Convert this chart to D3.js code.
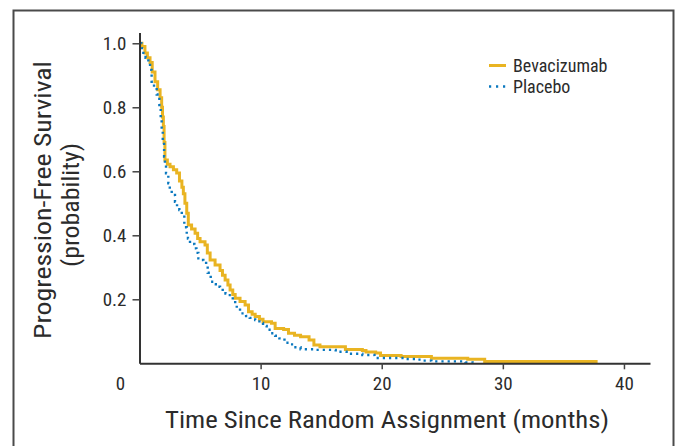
<!DOCTYPE html>
<html>
<head>
<meta charset="utf-8">
<script src="https://cdn.jsdelivr.net/npm/d3@7"></script>
<style>
  body { margin: 0; background: #fff; }
  text { font-family: "Liberation Sans Narrow", "Roboto Condensed", "Arial Narrow", "Liberation Sans", sans-serif; fill: #2b2b2b; font-weight: normal; }
</style>
</head>
<body>
<svg id="chart" width="679" height="446"></svg>
<script>
// Kaplan-Meier readings (months, probability)
const bevTime = [0, 0.2, 0.45, 0.65, 0.87, 1.05, 1.28, 1.5, 1.7, 1.83, 1.9, 1.97, 2.03, 2.1, 2.3, 2.52, 2.8, 3.07, 3.3, 3.5, 3.62, 3.75, 3.9, 4.03, 4.3, 4.59, 4.8, 5.0, 5.41, 5.6, 5.83, 6.24, 6.65, 6.85, 7.07, 7.3, 7.48, 7.7, 7.9, 8.3, 8.72, 9.0, 9.3, 9.55, 9.9, 10.2, 10.9, 11.2, 11.9, 12.3, 12.8, 13.3, 14.0, 14.4, 14.9, 17.0, 18.4, 18.7, 19.5, 19.9, 21.6, 24.1, 27.1, 28.5, 37.7];
const bevSurv = [1.0, 0.99, 0.97, 0.955, 0.94, 0.91, 0.88, 0.855, 0.83, 0.80, 0.77, 0.74, 0.69, 0.635, 0.622, 0.614, 0.605, 0.595, 0.57, 0.55, 0.53, 0.5, 0.469, 0.432, 0.42, 0.406, 0.39, 0.38, 0.37, 0.345, 0.323, 0.307, 0.29, 0.275, 0.26, 0.245, 0.229, 0.215, 0.203, 0.193, 0.182, 0.161, 0.153, 0.146, 0.138, 0.13, 0.125, 0.109, 0.106, 0.094, 0.088, 0.083, 0.073, 0.057, 0.052, 0.043, 0.04, 0.035, 0.032, 0.024, 0.021, 0.016, 0.0125, 0.006, 0.0];

const plaTime = [0, 0.15, 0.32, 0.5, 0.73, 0.87, 1.0, 1.2, 1.42, 1.64, 1.75, 1.83, 1.92, 2.03, 2.1, 2.19, 2.38, 2.5, 2.66, 2.93, 3.1, 3.29, 3.49, 3.7, 3.9, 4.0, 4.17, 4.53, 4.7, 4.86, 5.1, 5.27, 5.5, 5.63, 5.88, 6.1, 6.3, 6.65, 6.87, 7.1, 7.34, 7.7, 7.9, 8.03, 8.3, 8.8, 9.1, 9.55, 9.9, 10.2, 10.5, 10.84, 11.2, 11.55, 11.97, 12.4, 12.77, 13.3, 14.4, 16.2, 17.1, 18.4, 19.4, 21.9, 22.8, 23.4, 24.1, 26.9, 27.5];
const plaSurv = [1.0, 0.985, 0.97, 0.955, 0.94, 0.917, 0.88, 0.86, 0.84, 0.807, 0.76, 0.725, 0.69, 0.646, 0.62, 0.594, 0.5625, 0.545, 0.526, 0.505, 0.49, 0.479, 0.463, 0.425, 0.404, 0.39, 0.373, 0.359, 0.345, 0.328, 0.323, 0.32, 0.304, 0.283, 0.255, 0.247, 0.239, 0.234, 0.224, 0.218, 0.213, 0.198, 0.185, 0.172, 0.156, 0.148, 0.142, 0.135, 0.126, 0.117, 0.105, 0.094, 0.086, 0.078, 0.064, 0.059, 0.05, 0.044, 0.042, 0.036, 0.03, 0.026, 0.0166, 0.0134, 0.0116, 0.0084, 0.006, 0.003, 0.002];

const seriesNames = ["Bevacizumab", "Placebo"];
const xTicks = [10, 20, 30, 40];
const yTicks = [0.2, 0.4, 0.6, 0.8, 1.0];

const yellow = "#E9B422";
const blue = "#0A78BF";
const fontStack = "'Liberation Sans Narrow', 'Roboto Condensed', 'Arial Narrow', 'Liberation Sans', sans-serif";

const svg = d3.select("#chart");

// outer frame
svg.append("rect")
  .attr("x", 13.5).attr("y", 10.5)
  .attr("width", 660).attr("height", 460)
  .attr("fill", "none")
  .attr("stroke", "#4a4a4a")
  .attr("stroke-width", 2);

const x = d3.scaleLinear().domain([0, 42.15]).range([139.5, 650]);
const y = d3.scaleLinear().domain([0, 1.034]).range([363.3, 32.4]);

const line = d3.line()
  .x(d => x(d[0]))
  .y(d => y(d[1]))
  .curve(d3.curveStepAfter);

const bevData = bevTime.map((t, i) => [t, bevSurv[i]]);
const plaData = plaTime.map((t, i) => [t, plaSurv[i]]);

svg.append("path")
  .datum(bevData)
  .attr("d", line)
  .attr("fill", "none")
  .attr("stroke", yellow)
  .attr("stroke-width", 3);

svg.append("path")
  .datum(plaData)
  .attr("d", line)
  .attr("fill", "none")
  .attr("stroke", blue)
  .attr("stroke-width", 2.4)
  .attr("stroke-dasharray", "2.2,4");

// axes
const xAxis = svg.append("g")
  .attr("transform", `translate(0,${y(0)})`)
  .call(d3.axisBottom(x).tickValues(xTicks).tickSize(6).tickSizeOuter(0).tickPadding(7));

const yAxis = svg.append("g")
  .attr("transform", `translate(${x(0)},0)`)
  .call(d3.axisLeft(y).tickValues(yTicks).tickFormat(d3.format(".1f")).tickSize(7).tickSizeOuter(0).tickPadding(6));

[xAxis, yAxis].forEach(g => {
  g.select(".domain").attr("stroke", "#333").attr("stroke-width", 2);
  g.selectAll(".tick line").attr("stroke", "#444").attr("stroke-width", 1.5);
  g.selectAll(".tick text").attr("font-size", 19).attr("fill", "#2b2b2b")
    .style("font-family", fontStack).style("font-weight", "normal");
});

// corner zero label
svg.append("text")
  .attr("x", x(0) - 19).attr("y", y(0) + 26.5)
  .attr("text-anchor", "middle")
  .attr("font-size", 19)
  .text("0");

// axis titles
svg.append("text")
  .attr("x", 387).attr("y", 428)
  .attr("text-anchor", "middle")
  .attr("font-size", 24)
  .attr("textLength", 444)
  .attr("lengthAdjust", "spacingAndGlyphs")
  .text("Time Since Random Assignment (months)");

svg.append("text")
  .attr("transform", "translate(51,200) rotate(-90)")
  .attr("text-anchor", "middle")
  .attr("font-size", 24)
  .attr("textLength", 278)
  .attr("lengthAdjust", "spacingAndGlyphs")
  .text("Progression-Free Survival");

svg.append("text")
  .attr("transform", "translate(79,205) rotate(-90)")
  .attr("text-anchor", "middle")
  .attr("font-size", 24)
  .attr("textLength", 124)
  .attr("lengthAdjust", "spacingAndGlyphs")
  .text("(probability)");

// legend
const legend = svg.append("g").attr("transform", "translate(489,0)");
seriesNames.forEach((name, i) => {
  const ly = 65.5 + i * 21;
  legend.append("line")
    .attr("x1", 0).attr("x2", 17)
    .attr("y1", ly).attr("y2", ly)
    .attr("stroke", i === 0 ? yellow : blue)
    .attr("stroke-width", i === 0 ? 3 : 2.4)
    .attr("stroke-dasharray", i === 0 ? null : "2.2,4.8");
  legend.append("text")
    .attr("x", 24).attr("y", ly + 6)
    .attr("font-size", 18)
    .text(name);
});
</script>
</body>
</html>
